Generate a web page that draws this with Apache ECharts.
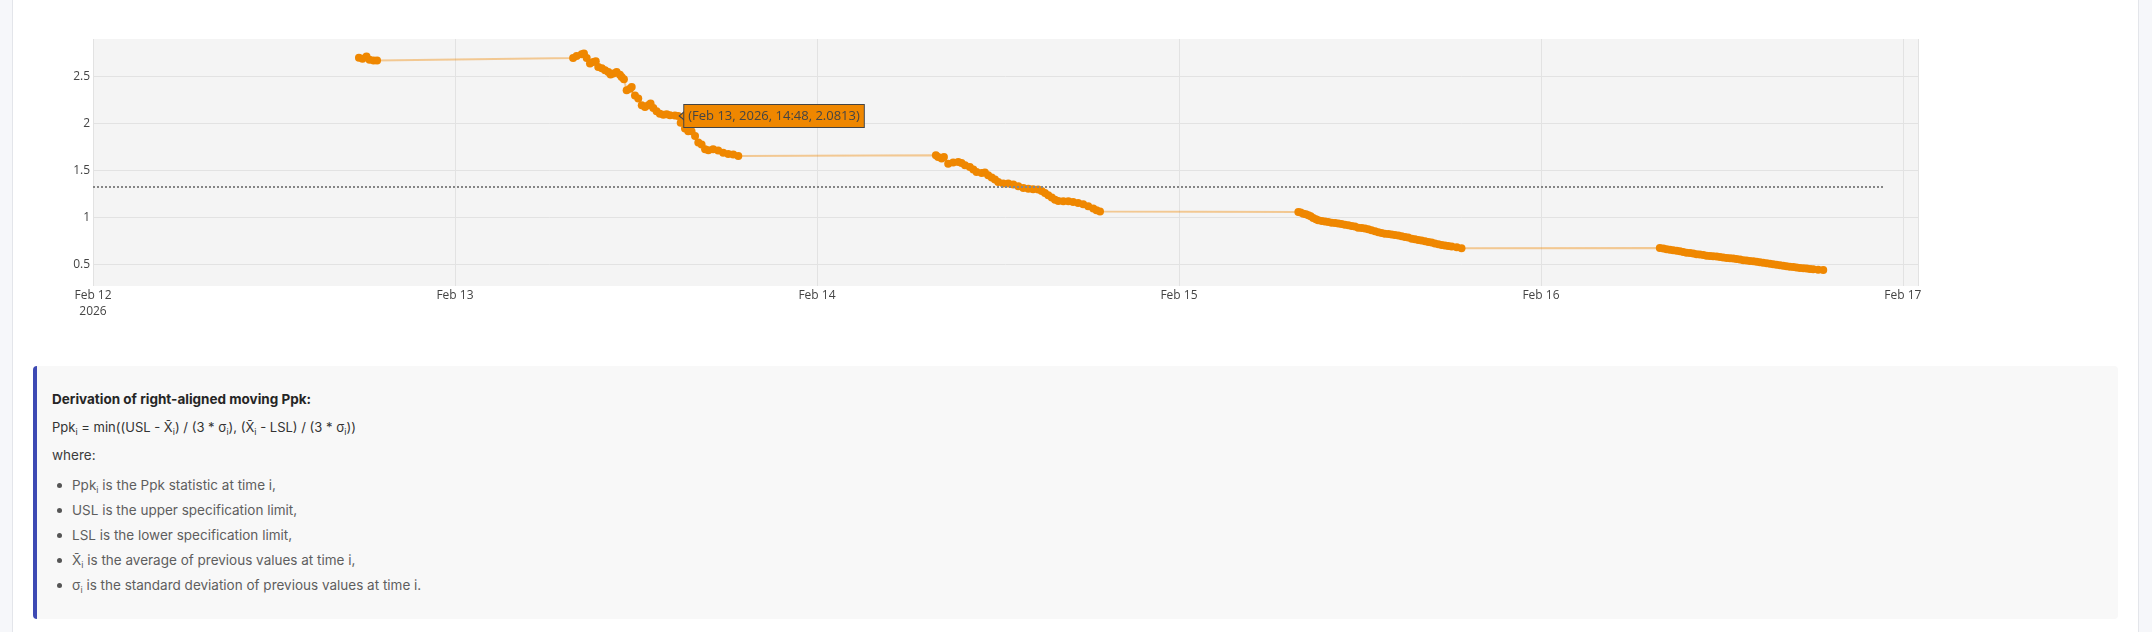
<!DOCTYPE html>
<html>
<head>
<meta charset="utf-8">
<script src="https://cdn.jsdelivr.net/npm/echarts@6/dist/echarts.min.js"></script>
<style>
html,body{margin:0;padding:0;width:2152px;height:632px;overflow:hidden;background:#f6f7fa;}
#card{position:absolute;left:12px;top:0;width:2125px;height:632px;background:#fff;border-left:1px solid #e3e5ea;border-right:1px solid #e3e5ea;}
#chart{position:absolute;left:0;top:0;width:2152px;height:345px;}
#note{position:absolute;left:33px;top:366px;width:2081px;height:253px;background:#f8f8f8;border-left:4px solid #3d49b3;border-radius:4px;font-family:Inter,'Noto Sans',sans-serif;font-size:13px;}
.ln{position:absolute;left:15px;height:20px;line-height:20px;white-space:nowrap;}
.hd{font-weight:700;font-size:13.5px;color:#252525;}
.fm{color:#333;}
.wh{color:#3c3c3c;font-size:13.5px;}
.li{left:35px;color:#5e5e5e;font-size:13.5px;}
.dot{position:absolute;left:20px;width:5px;height:5px;border-radius:50%;background:#555;}
sub{font-size:9px;vertical-align:-3px;line-height:0;}
</style>
</head>
<body>
<div id="card"></div>
<div id="chart"></div>
<div id="note">
  <div class="ln hd" style="top:23px">Derivation of right-aligned moving Ppk:</div>
  <div class="ln fm" style="top:51px">Ppk<sub>i</sub> = min((USL - X̄<sub>i</sub>) / (3 * σ<sub>i</sub>), (X̄<sub>i</sub> - LSL) / (3 * σ<sub>i</sub>))</div>
  <div class="ln wh" style="top:79px">where:</div>
  <div class="dot" style="top:117px"></div><div class="ln li" style="top:109px">Ppk<sub>i</sub> is the Ppk statistic at time i,</div>
  <div class="dot" style="top:142px"></div><div class="ln li" style="top:134px">USL is the upper specification limit,</div>
  <div class="dot" style="top:167px"></div><div class="ln li" style="top:159px">LSL is the lower specification limit,</div>
  <div class="dot" style="top:192px"></div><div class="ln li" style="top:184px">X̄<sub>i</sub> is the average of previous values at time i,</div>
  <div class="dot" style="top:217px"></div><div class="ln li" style="top:209px">σ<sub>i</sub> is the standard deviation of previous values at time i.</div>
</div>
<script>
// ---- data ----
const feb12Points = [
  ['2026-02-12 17:38', 2.700],
  ['2026-02-12 17:52', 2.690],
  ['2026-02-12 18:08', 2.715],
  ['2026-02-12 18:20', 2.680],
  ['2026-02-12 18:36', 2.672],
  ['2026-02-12 18:50', 2.672]
];
const feb13Points = [
  ['2026-02-13 07:50', 2.698], ['2026-02-13 08:04', 2.720], ['2026-02-13 08:24', 2.737],
  ['2026-02-13 08:33', 2.745], ['2026-02-13 08:44', 2.698], ['2026-02-13 08:57', 2.638],
  ['2026-02-13 09:10', 2.655], ['2026-02-13 09:20', 2.663], ['2026-02-13 09:30', 2.602],
  ['2026-02-13 09:44', 2.590], ['2026-02-13 09:57', 2.567], ['2026-02-13 10:10', 2.549],
  ['2026-02-13 10:19', 2.521], ['2026-02-13 10:30', 2.532], ['2026-02-13 10:43', 2.549],
  ['2026-02-13 10:56', 2.520], ['2026-02-13 11:03', 2.496], ['2026-02-13 11:12', 2.471],
  ['2026-02-13 11:23', 2.354], ['2026-02-13 11:36', 2.372], ['2026-02-13 11:43', 2.390],
  ['2026-02-13 11:56', 2.300], ['2026-02-13 12:09', 2.266], ['2026-02-13 12:23', 2.195],
  ['2026-02-13 12:36', 2.177], ['2026-02-13 12:49', 2.195], ['2026-02-13 12:58', 2.213],
  ['2026-02-13 13:09', 2.166], ['2026-02-13 13:22', 2.131], ['2026-02-13 13:35', 2.105],
  ['2026-02-13 13:49', 2.094], ['2026-02-13 14:02', 2.100], ['2026-02-13 14:15', 2.090],
  ['2026-02-13 14:35', 2.086], ['2026-02-13 14:48', 2.0813], ['2026-02-13 14:58', 2.010],
  ['2026-02-13 15:15', 1.947], ['2026-02-13 15:28', 1.918], ['2026-02-13 15:41', 1.918],
  ['2026-02-13 15:55', 1.868], ['2026-02-13 16:08', 1.798], ['2026-02-13 16:21', 1.777],
  ['2026-02-13 16:35', 1.727], ['2026-02-13 16:48', 1.716], ['2026-02-13 17:07', 1.727],
  ['2026-02-13 17:27', 1.713], ['2026-02-13 17:47', 1.691], ['2026-02-13 18:07', 1.677],
  ['2026-02-13 18:27', 1.670], ['2026-02-13 18:47', 1.655]
];
const feb14Points = [
  ['2026-02-14 07:53', 1.663], ['2026-02-14 08:02', 1.645], ['2026-02-14 08:16', 1.628],
  ['2026-02-14 08:25', 1.645], ['2026-02-14 08:42', 1.574], ['2026-02-14 09:02', 1.585],
  ['2026-02-14 09:22', 1.592], ['2026-02-14 09:35', 1.581], ['2026-02-14 09:49', 1.556],
  ['2026-02-14 10:08', 1.538], ['2026-02-14 10:22', 1.511], ['2026-02-14 10:35', 1.485],
  ['2026-02-14 10:55', 1.474], ['2026-02-14 11:08', 1.479], ['2026-02-14 11:21', 1.450],
  ['2026-02-14 11:35', 1.426], ['2026-02-14 11:48', 1.404], ['2026-02-14 12:01', 1.379],
  ['2026-02-14 12:21', 1.362], ['2026-02-14 12:41', 1.362], ['2026-02-14 13:01', 1.351],
  ['2026-02-14 13:21', 1.333], ['2026-02-14 13:41', 1.315], ['2026-02-14 14:01', 1.308],
  ['2026-02-14 14:20', 1.301], ['2026-02-14 14:40', 1.298], ['2026-02-14 14:54', 1.283],
  ['2026-02-14 15:07', 1.262], ['2026-02-14 15:20', 1.237], ['2026-02-14 15:34', 1.213],
  ['2026-02-14 15:47', 1.191], ['2026-02-14 16:00', 1.177], ['2026-02-14 16:20', 1.173],
  ['2026-02-14 16:40', 1.173], ['2026-02-14 16:59', 1.166], ['2026-02-14 17:19', 1.155],
  ['2026-02-14 17:39', 1.141], ['2026-02-14 17:59', 1.120], ['2026-02-14 18:19', 1.096],
  ['2026-02-14 18:32', 1.078], ['2026-02-14 18:46', 1.064]
];
const feb15Points = [
  ['2026-02-15 07:55', 1.060], ['2026-02-15 08:04', 1.053], ['2026-02-15 08:15', 1.042],
  ['2026-02-15 08:25', 1.035], ['2026-02-15 08:35', 1.024], ['2026-02-15 08:44', 1.014],
  ['2026-02-15 08:54', 0.996], ['2026-02-15 09:05', 0.982], ['2026-02-15 09:14', 0.971],
  ['2026-02-15 09:28', 0.964], ['2026-02-15 09:41', 0.957], ['2026-02-15 09:54', 0.953],
  ['2026-02-15 10:07', 0.946], ['2026-02-15 10:21', 0.943], ['2026-02-15 10:34', 0.936],
  ['2026-02-15 10:47', 0.932], ['2026-02-15 11:00', 0.925], ['2026-02-15 11:14', 0.918],
  ['2026-02-15 11:27', 0.911], ['2026-02-15 11:40', 0.904], ['2026-02-15 11:53', 0.893],
  ['2026-02-15 12:07', 0.890], ['2026-02-15 12:20', 0.883], ['2026-02-15 12:33', 0.876],
  ['2026-02-15 12:46', 0.865], ['2026-02-15 13:00', 0.854], ['2026-02-15 13:13', 0.844],
  ['2026-02-15 13:26', 0.837], ['2026-02-15 13:39', 0.829], ['2026-02-15 13:53', 0.826],
  ['2026-02-15 14:06', 0.819], ['2026-02-15 14:19', 0.815], ['2026-02-15 14:33', 0.808],
  ['2026-02-15 14:46', 0.801], ['2026-02-15 14:59', 0.794], ['2026-02-15 15:12', 0.787],
  ['2026-02-15 15:26', 0.776], ['2026-02-15 15:39', 0.769], ['2026-02-15 15:52', 0.762],
  ['2026-02-15 16:05', 0.755], ['2026-02-15 16:19', 0.748], ['2026-02-15 16:32', 0.741],
  ['2026-02-15 16:45', 0.734], ['2026-02-15 16:58', 0.723], ['2026-02-15 17:12', 0.716],
  ['2026-02-15 17:25', 0.709], ['2026-02-15 17:38', 0.702], ['2026-02-15 17:51', 0.698],
  ['2026-02-15 18:05', 0.691], ['2026-02-15 18:25', 0.684], ['2026-02-15 18:44', 0.673]
];
const feb16Points = [
  ['2026-02-16 07:53', 0.677], ['2026-02-16 08:07', 0.670], ['2026-02-16 08:20', 0.663],
  ['2026-02-16 08:33', 0.657], ['2026-02-16 08:46', 0.652], ['2026-02-16 09:00', 0.647],
  ['2026-02-16 09:13', 0.642], ['2026-02-16 09:26', 0.634], ['2026-02-16 09:39', 0.627],
  ['2026-02-16 09:53', 0.622], ['2026-02-16 10:06', 0.617], ['2026-02-16 10:19', 0.611],
  ['2026-02-16 10:32', 0.606], ['2026-02-16 10:46', 0.601], ['2026-02-16 10:59', 0.595],
  ['2026-02-16 11:12', 0.592], ['2026-02-16 11:25', 0.588], ['2026-02-16 11:39', 0.585],
  ['2026-02-16 11:52', 0.581], ['2026-02-16 12:05', 0.576], ['2026-02-16 12:19', 0.571],
  ['2026-02-16 12:32', 0.567], ['2026-02-16 12:45', 0.564], ['2026-02-16 12:58', 0.558],
  ['2026-02-16 13:12', 0.553], ['2026-02-16 13:25', 0.547], ['2026-02-16 13:38', 0.542],
  ['2026-02-16 13:51', 0.539], ['2026-02-16 14:05', 0.535], ['2026-02-16 14:18', 0.530],
  ['2026-02-16 14:31', 0.524], ['2026-02-16 14:44', 0.519], ['2026-02-16 14:58', 0.514],
  ['2026-02-16 15:11', 0.509], ['2026-02-16 15:24', 0.503], ['2026-02-16 15:37', 0.498],
  ['2026-02-16 15:51', 0.493], ['2026-02-16 16:04', 0.487], ['2026-02-16 16:17', 0.482],
  ['2026-02-16 16:30', 0.478], ['2026-02-16 16:44', 0.475], ['2026-02-16 16:57', 0.469],
  ['2026-02-16 17:10', 0.464], ['2026-02-16 17:24', 0.461], ['2026-02-16 17:37', 0.457],
  ['2026-02-16 17:50', 0.454], ['2026-02-16 18:03', 0.450], ['2026-02-16 18:23', 0.446],
  ['2026-02-16 18:43', 0.443]
];
const targetPpk = 1.33;
const targetSpan = ['2026-02-12 00:00', '2026-02-16 22:48'];
const xRange = ['2026-02-12 00:00', '2026-02-17 01:00'];
const yRange = [0.272, 2.9];
const yTickValues = [0.5, 1, 1.5, 2, 2.5];
const monthNames = ['Jan','Feb','Mar','Apr','May','Jun','Jul','Aug','Sep','Oct','Nov','Dec'];
const hoverTime = '2026-02-13 14:48';

// ---- build ----
const allPoints = [].concat(feb12Points, feb13Points, feb14Points, feb15Points, feb16Points);
const hoverPoint = allPoints.find(p => p[0] === hoverTime);
function parseLocal(s) {
  const [d, t] = s.split(' ');
  const [Y, M, D] = d.split('-').map(Number);
  const [h, m] = t.split(':').map(Number);
  return new Date(Y, M - 1, D, h, m).getTime();
}
const dataTs = allPoints.map(p => [parseLocal(p[0]), p[1]]);
const hoverTs = [parseLocal(hoverPoint[0]), hoverPoint[1]];
const hd = new Date(hoverTs[0]);
const hoverText = '(' + monthNames[hd.getMonth()] + ' ' + hd.getDate() + ', ' + hd.getFullYear() + ', ' +
  hoverPoint[0].split(' ')[1] + ', ' + hoverPoint[1] + ')';

const chart = echarts.init(document.getElementById('chart'));
const gridColor = '#e2e2e2';
chart.setOption({
  animation: false,
  grid: { left: 93, top: 39, width: 1825, height: 247, show: true, backgroundColor: '#f4f4f4', borderWidth: 0 },
  xAxis: {
    type: 'time',
    min: parseLocal(xRange[0]), max: parseLocal(xRange[1]),
    minInterval: 86400000, maxInterval: 86400000,
    axisLine: { show: false }, axisTick: { show: false },
    splitLine: { show: true, lineStyle: { color: gridColor, width: 1 } },
    axisLabel: {
      fontFamily: 'Open Sans', fontSize: 12, color: '#444', margin: 2, lineHeight: 16, hideOverlap: false,
      formatter: function (v) {
        const d = new Date(v);
        const s = monthNames[d.getMonth()] + ' ' + d.getDate();
        return v === parseLocal(xRange[0]) ? s + '\n' + d.getFullYear() : s;
      }
    }
  },
  yAxis: {
    type: 'value', min: yRange[0], max: yRange[1],
    axisLine: { show: false },
    axisTick: { show: false, customValues: yTickValues },
    axisLabel: { customValues: yTickValues, fontFamily: 'Open Sans', fontSize: 12, color: '#444', margin: 3 },
    splitLine: { show: true, lineStyle: { color: gridColor, width: 1 } }
  },
  series: [
    {
      type: 'line', data: [], z: 1, silent: true,
      markLine: {
        silent: true, symbol: 'none', label: { show: false }, animation: false,
        lineStyle: { color: '#858585', type: [2, 2], width: 2 },
        emphasis: { disabled: true },
        data: [[{ coord: [parseLocal(targetSpan[0]), targetPpk] }, { coord: [parseLocal(targetSpan[1]), targetPpk] }]]
      }
    },
    {
      type: 'line', data: dataTs, z: 3, silent: true,
      symbol: 'circle', symbolSize: 8, showSymbol: true, showAllSymbol: true,
      itemStyle: { color: '#ef8700' },
      lineStyle: { color: 'rgba(239,135,0,0.4)', width: 2 },
      emphasis: { disabled: true }
    },
    {
      type: 'line', data: [], z: 10, silent: true,
      markPoint: {
        silent: true, animation: false,
        data: [
          {
            coord: hoverTs, symbol: 'rect', symbolSize: [0.1, 0.1],
            itemStyle: { color: 'rgba(0,0,0,0)' },
            label: {
              show: true, position: 'right', distance: 6, formatter: hoverText,
              backgroundColor: '#ef8700', borderColor: '#444', borderWidth: 1,
              padding: [4, 4, 3, 4], color: '#444', fontFamily: 'Open Sans', fontSize: 13, lineHeight: 15
            }
          },
          {
            coord: hoverTs, symbol: 'path://M7,0L0,5L7,10', symbolSize: [6, 10], symbolOffset: [4, 0],
            itemStyle: { color: '#ef8700', borderColor: '#444', borderWidth: 1 },
            label: { show: false }
          }
        ]
      }
    }
  ]
});
</script>
</body>
</html>
